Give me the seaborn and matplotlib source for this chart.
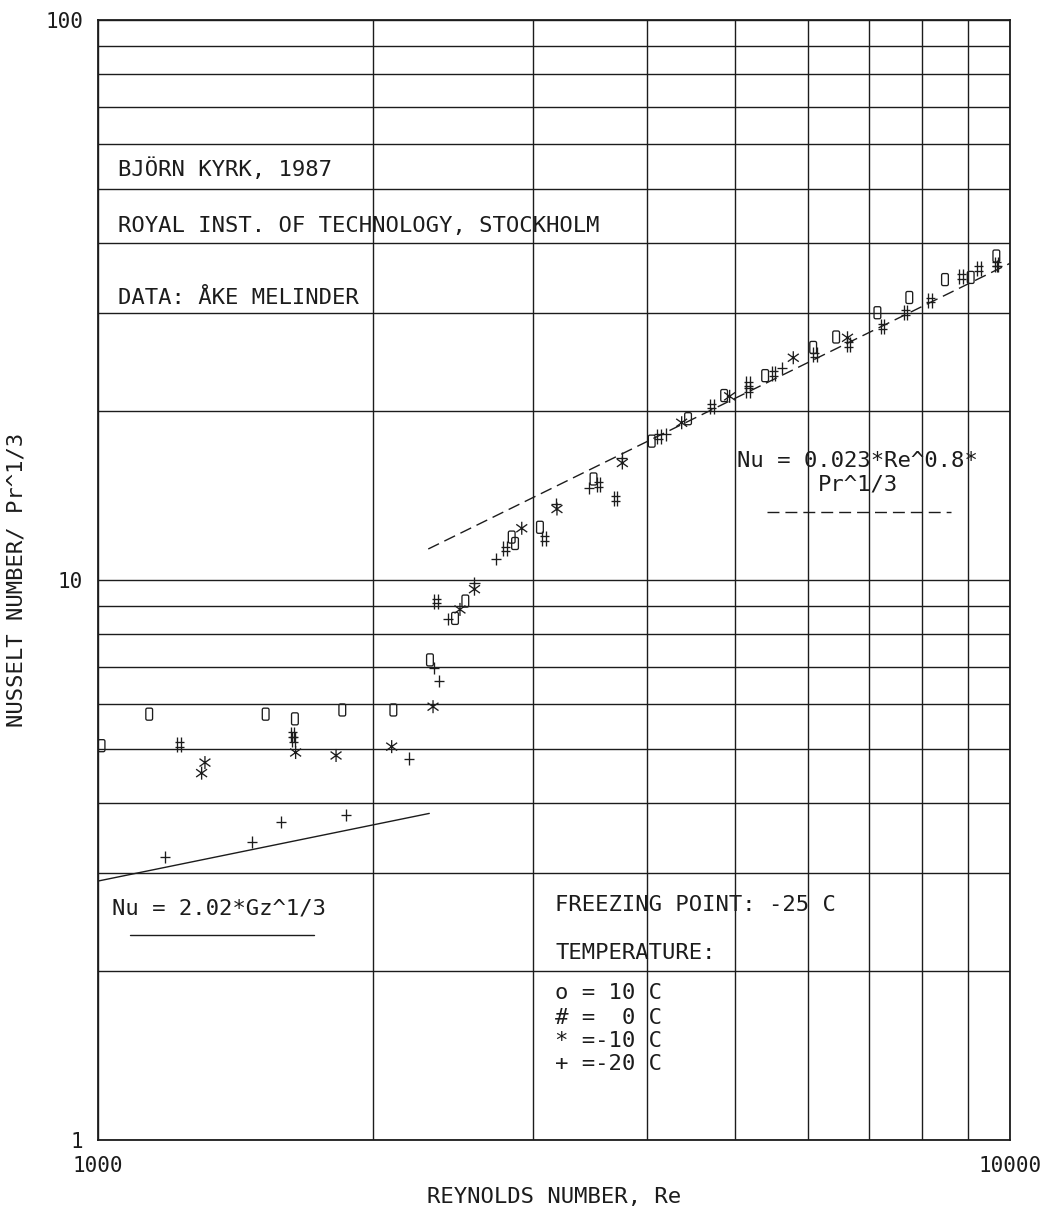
import numpy as np
import pandas as pd
import matplotlib
matplotlib.use("Agg")
import matplotlib.pyplot as plt
from matplotlib.path import Path
from matplotlib.lines import Line2D
from matplotlib.ticker import FixedLocator, NullFormatter, FuncFormatter
import seaborn as sns

# ---------------- data ----------------
re_10 = [1009, 1138, 1527, 1644, 1853, 2108, 2312, 2463, 2528, 2842, 2866, 3052,
         3494, 4047, 4436, 4859, 5389, 6084, 6447, 7155, 7755, 8486, 9055, 9661]
nu_10 = [5.06, 5.76, 5.76, 5.65, 5.86, 5.86, 7.20, 8.54, 9.17, 11.93, 11.62, 12.42,
         15.15, 17.70, 19.41, 21.35, 23.17, 26.02, 27.16, 30.01, 31.95, 34.39, 34.70, 37.89]

re_0 = [1227, 1634, 1639, 2348, 2796, 3085, 3537, 3694, 4120, 4709, 5162, 5162,
        5502, 6111, 6649, 7250, 7680, 8172, 8841, 9243, 9661]
nu_0 = [5.09, 5.29, 5.19, 9.17, 11.36, 11.87, 14.81, 13.99, 18.06, 20.45, 22.39, 21.84,
        23.39, 25.23, 26.37, 28.38, 30.00, 31.62, 34.86, 36.03, 36.66]

re_m10 = [1299, 1310, 1647, 1824, 2099, 2330, 2494, 2587, 2915, 3186, 3758, 4365,
          4927, 5786, 6635]
nu_m10 = [4.52, 4.72, 4.92, 4.86, 5.04, 5.94, 8.86, 9.63, 12.37, 13.39, 16.18, 19.09,
          21.28, 24.94, 27.07]

re_m20 = [1184, 1474, 1586, 1870, 2193, 2338, 2367, 2418, 2587, 2732, 3178, 3454,
          3750, 4191, 5623, 9680]
nu_m20 = [3.20, 3.40, 3.69, 3.81, 4.80, 6.96, 6.61, 8.52, 9.87, 10.90, 13.67, 14.60,
          16.51, 18.19, 23.91, 36.37]

# correlation lines (end points)
lam_re = [1000, 2308]
lam_nu = [2.90, 3.83]
turb_re = [2302, 10000]
turb_nu = [11.36, 36.77]

x_ticks = [1000, 10000]
y_ticks = [1, 10, 100]

legend_rows = ["o = 10 C", "# =  0 C", "* =-10 C", "+ =-20 C"]

# ---------------- style ----------------
sns.set_theme(style="white")
plt.rcParams['font.family'] = ['DejaVu Sans Mono', 'DejaVu Sans']
INK = "#1c1c1c"
plt.rcParams['text.color'] = INK

W, H = 1044, 1210
fig = plt.figure(figsize=(W / 100, H / 100), dpi=100)
ax = fig.add_axes([98 / W, 1 - 1140 / H, 912 / W, 1120 / H])


def fx(px):
    return px / W


def fy(py):
    return 1 - py / H


def seg_path(segs):
    verts, codes = [], []
    for a, b in segs:
        verts += [a, b]
        codes += [Path.MOVETO, Path.LINETO]
    return Path(verts, codes)


hash_marker = seg_path([((-0.12, -0.5), (-0.12, 0.5)), ((0.12, -0.5), (0.12, 0.5)),
                        ((-0.3, -0.16), (0.3, -0.16)), ((-0.3, 0.16), (0.3, 0.16))])
star_marker = seg_path([((0, -0.5), (0, 0.5)), ((-0.42, -0.3), (0.42, 0.3)),
                        ((-0.42, 0.3), (0.42, -0.3))])
plus_marker = seg_path([((0, -0.5), (0, 0.5)), ((-0.42, 0), (0.42, 0))])


def rounded_rect(hw, hh, r, n=6):
    pts = []
    corners = [(hw - r, hh - r, 0), (-hw + r, hh - r, 90), (-hw + r, -hh + r, 180), (hw - r, -hh + r, 270)]
    for cx, cy, a0 in corners:
        for t in np.linspace(np.radians(a0), np.radians(a0 + 90), n):
            pts.append((cx + r * np.cos(t), cy + r * np.sin(t)))
    pts.append(pts[0])
    codes = [Path.MOVETO] + [Path.LINETO] * (len(pts) - 2) + [Path.CLOSEPOLY]
    return Path(pts, codes)


o_marker = rounded_rect(0.28, 0.5, 0.13)

# ---------------- grid / axes ----------------
ax.set_xscale('log')
ax.set_yscale('log')
ax.set_xlim(1000, 10000)
ax.set_ylim(1, 100)
ax.xaxis.set_major_locator(FixedLocator(x_ticks))
ax.yaxis.set_major_locator(FixedLocator(y_ticks))
ax.xaxis.set_minor_locator(matplotlib.ticker.LogLocator(base=10, subs=np.arange(2, 10)))
ax.yaxis.set_minor_locator(matplotlib.ticker.LogLocator(base=10, subs=np.arange(2, 10)))
ax.xaxis.set_major_formatter(FuncFormatter(lambda v, _: f"{v:g}"))
ax.yaxis.set_major_formatter(FuncFormatter(lambda v, _: f"{v:g}"))
ax.xaxis.set_minor_formatter(NullFormatter())
ax.yaxis.set_minor_formatter(NullFormatter())
ax.tick_params(axis='x', which='both', length=0, pad=11.5, labelsize=15, labelcolor=INK)
ax.tick_params(axis='y', which='major', length=6.5, width=1.0, color=INK, direction='out',
               pad=4.3, labelsize=15, labelcolor=INK)
ax.tick_params(axis='y', which='minor', length=0)
ax.grid(True, which='both', color=INK, linewidth=1.0)
ax.set_axisbelow(True)
for s in ax.spines.values():
    s.set_color(INK)
    s.set_linewidth(1.3)

# ---------------- data marks ----------------
df = pd.concat([
    pd.DataFrame({'re': re_10, 'nu': nu_10, 'temp': '10'}),
    pd.DataFrame({'re': re_0, 'nu': nu_0, 'temp': '0'}),
    pd.DataFrame({'re': re_m10, 'nu': nu_m10, 'temp': '-10'}),
    pd.DataFrame({'re': re_m20, 'nu': nu_m20, 'temp': '-20'}),
], ignore_index=True)

marker_spec = {'10': (o_marker, 75), '0': (hash_marker, 117), '-10': (star_marker, 88),
               '-20': (plus_marker, 75)}
for t, (mk, sz) in marker_spec.items():
    sub = df[df['temp'] == t]
    sns.scatterplot(data=sub, x='re', y='nu', marker=mk, s=sz, color=INK,
                    facecolor='none', edgecolor=INK, linewidth=0.95, ax=ax,
                    legend=False, zorder=4)

sns.lineplot(x=lam_re, y=lam_nu, color=INK, linewidth=1.0, ax=ax, zorder=3)
sns.lineplot(x=turb_re, y=turb_nu, color=INK, linewidth=1.0, linestyle=(0, (8.6, 4.3)),
             ax=ax, zorder=3)

ax.set_xlabel("REYNOLDS NUMBER, Re", fontsize=16, color=INK)
ax.set_ylabel("NUSSELT NUMBER/ Pr^1/3", fontsize=16, color=INK)
ax.xaxis.set_label_coords(0.5, -0.042)
ax.yaxis.set_label_coords(-0.078, 0.5)

# ---------------- annotations ----------------
FS = 16
fig.text(fx(118), fy(176), "BJÖRN KYRK, 1987", fontsize=FS, va='baseline')
fig.text(fx(118), fy(232), "ROYAL INST. OF TECHNOLOGY, STOCKHOLM", fontsize=FS, va='baseline')
fig.text(fx(118), fy(304), "DATA: ÅKE MELINDER", fontsize=FS, va='baseline')

fig.text(fx(737), fy(467), "Nu = 0.023*Re^0.8*", fontsize=FS, va='baseline')
fig.text(fx(818), fy(491), "Pr^1/3", fontsize=FS, va='baseline')
fig.add_artist(Line2D([fx(767), fx(951)], [fy(512), fy(512)], color=INK, linewidth=1.0,
                      linestyle=(0, (8.6, 4.3))))

fig.text(fx(112), fy(915), "Nu = 2.02*Gz^1/3", fontsize=FS, va='baseline')
fig.add_artist(Line2D([fx(130), fx(314)], [fy(935), fy(935)], color=INK, linewidth=1.0))

fig.text(fx(555), fy(911), "FREEZING POINT: -25 C", fontsize=FS, va='baseline')
fig.text(fx(555), fy(959), "TEMPERATURE:", fontsize=FS, va='baseline')
for row, base in zip(legend_rows, [999, 1024, 1047, 1070]):
    fig.text(fx(555), fy(base), row, fontsize=FS, va='baseline')

fig.savefig("out.png", dpi=100, facecolor='white')
